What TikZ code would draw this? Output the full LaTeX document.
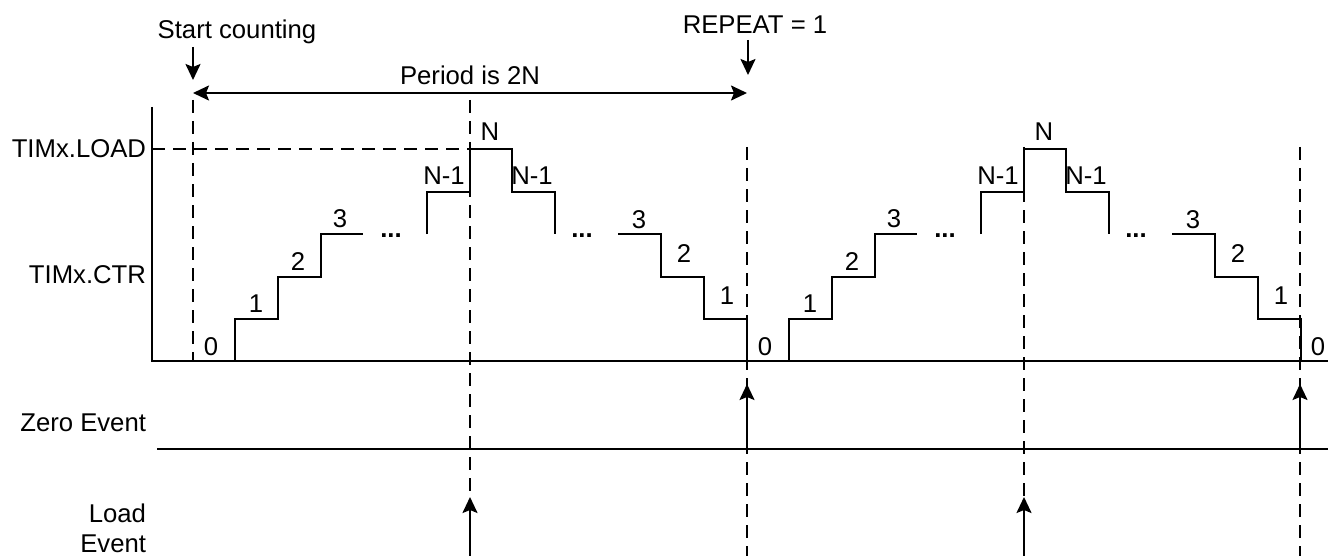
\documentclass[tikz,border=0pt]{standalone}
\usepackage{fontspec}
\setmainfont{Liberation Sans}
\usepackage{tikz}
\usetikzlibrary{arrows.meta, positioning, calc}

\begin{document}
\begin{tikzpicture}[x=0.5pt, y=-0.5pt, line width=1pt,
    >={Stealth[length=8pt, width=7.5pt, inset=1.5pt]},
    font=\fontsize{12.85}{15}\selectfont,
    lbl/.style={inner sep=0pt},
    guide/.style={line width=0.9pt, dash pattern=on 6.5pt off 4pt}]
  \useasboundingbox (0,0) rectangle (1328,556);

  % Axes and signal names
  \coordinate (top) at (152,107);
  \coordinate (orig) at (152,361);
  \coordinate (xend) at (1328,361);
  \draw (top) -- (orig) -- (xend);
  \node[lbl, anchor=east] (load) at (147,149) {TIMx.LOAD};
  \node[lbl, anchor=east] (ctr) at (147,275) {TIMx.CTR};
  \node[lbl, anchor=east] (zero) at (147,423) {Zero Event};
  \node[lbl, anchor=east, align=right] (ldev) at (147,528) {Load\\Event};
  \coordinate (zl0) at (157,449);
  \coordinate (zl1) at (1328,449);
  \draw (zl0) -- (zl1);

  % Counter, one period per pass
  \foreach \o in {0,554} {
    \begin{scope}[shift={(\o,0)}]
      \draw (235,361) -- (235,319) -- (278,319) -- (278,277) -- (321,277) -- (321,234) -- (363,234);
      \draw (427,234) -- (427,192) -- (470,192) -- (470,149) -- (512,149) -- (512,192) -- (555,192) -- (555,234);
      \draw (618,234) -- (661,234) -- (661,277) -- (704,277) -- (704,319) -- (747,319) -- (747,361);
      \foreach \x/\y/\t in {256/304/1, 298/262/2, 340/219/3, 444/176/N-1, 490/132/N,
                            532/176/N-1, 639/220/3, 684/254/2, 727/296/1}
        \node[lbl] (v\o-\x) at (\x,\y) {\t};
      \foreach \x in {391,582}
        \node[lbl, anchor=base] (dots\o-\x) at (\x,237) {\textbf{...}};
    \end{scope}
  }
  \foreach \x in {211,765,1318}
    \node[lbl] (z\x) at (\x,347) {0};

  % Dashed guides
  \coordinate (ld0) at (152,149);
  \coordinate (ld1) at (470,149);
  \draw[guide] (ld0) -- (ld1);
  \coordinate (st0) at (193,100);
  \coordinate (st1) at (193,361);
  \draw[guide] (st0) -- (st1);
  \foreach \x/\y in {470/100, 747/147, 1024/147, 1300/147} {
    \coordinate (g\x a) at (\x,\y);
    \coordinate (g\x b) at (\x,556);
    \draw[guide] (g\x a) -- (g\x b);
  }

  % Annotations on top
  \node[lbl] (startlbl) at (237,32) {Start counting};
  \coordinate (sc0) at (193,47);
  \coordinate (sc1) at (193,80);
  \draw[->] (sc0) -- (sc1);
  \node[lbl] (period) at (470,75) {Period is 2N};
  \coordinate (pd0) at (193,93);
  \coordinate (pd1) at (747,93);
  \draw[<->] (pd0) -- (pd1);
  \node[lbl] (repeat) at (755,25) {REPEAT = 1};
  \coordinate (rp0) at (748,40);
  \coordinate (rp1) at (748,75);
  \draw[->] (rp0) -- (rp1);

  % Events
  \foreach \x in {747,1300} {
    \coordinate (ze\x) at (\x,449);
    \coordinate (zt\x) at (\x,384);
    \draw[->] (ze\x) -- (zt\x);
  }
  \foreach \x in {470,1024} {
    \coordinate (le\x) at (\x,556);
    \coordinate (lt\x) at (\x,497);
    \draw[->] (le\x) -- (lt\x);
  }
\end{tikzpicture}
\end{document}
